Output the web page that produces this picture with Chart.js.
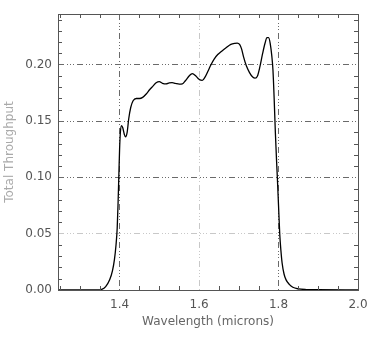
<!DOCTYPE html>
<html>
<head>
<meta charset="utf-8">
<script src="https://cdn.jsdelivr.net/npm/chart.js@4.4.1/dist/chart.umd.min.js"></script>
<style>
    html, body { margin: 0; padding: 0; background: #fff; }
    #wrap { width: 374px; height: 340px; }
</style>
</head>
<body>
<div id="wrap"><canvas id="throughputChart" width="374" height="340"></canvas></div>
<script>
// 波長 (microns)
const wavelength = [
    1.245, 1.300, 1.345, 1.355, 1.365, 1.375, 1.382, 1.387, 1.391, 1.394,
    1.396, 1.398, 1.400, 1.402, 1.405, 1.408, 1.412, 1.415, 1.419, 1.423,
    1.428, 1.434, 1.442, 1.450, 1.458, 1.467, 1.476, 1.484, 1.492, 1.500,
    1.508, 1.517, 1.525, 1.532, 1.540, 1.550, 1.558, 1.566, 1.575, 1.583,
    1.592, 1.600, 1.608, 1.615, 1.622, 1.630, 1.638, 1.647, 1.657, 1.668,
    1.680, 1.690, 1.696, 1.702, 1.707, 1.712, 1.719, 1.727, 1.735, 1.741,
    1.747, 1.753, 1.760, 1.766, 1.771, 1.775, 1.779, 1.783, 1.786, 1.789,
    1.792, 1.795, 1.797, 1.800, 1.803, 1.806, 1.809, 1.814, 1.819, 1.827,
    1.836, 1.850, 1.870, 1.900, 2.000
];

// 全スループット
const throughput = [
    0.000, 0.000, 0.000, 0.0005, 0.003, 0.009, 0.017, 0.027, 0.040, 0.055,
    0.075, 0.100, 0.125, 0.140, 0.146, 0.144, 0.138, 0.136, 0.140, 0.152,
    0.162, 0.168, 0.170, 0.170, 0.171, 0.174, 0.178, 0.181, 0.184, 0.185,
    0.1835, 0.183, 0.1838, 0.184, 0.1835, 0.1828, 0.183, 0.186, 0.190, 0.192,
    0.190, 0.187, 0.186, 0.189, 0.194, 0.200, 0.205, 0.209, 0.212, 0.215,
    0.218, 0.219, 0.2192, 0.218, 0.214, 0.207, 0.199, 0.193, 0.189, 0.188,
    0.190, 0.198, 0.210, 0.219, 0.224, 0.224, 0.219, 0.208, 0.195, 0.170,
    0.140, 0.115, 0.100, 0.075, 0.050, 0.035, 0.024, 0.014, 0.009, 0.005,
    0.0024, 0.001, 0.0004, 0.0002, 0.000
];

// 目盛り
const xTicks = [1.4, 1.6, 1.8, 2.0];
const yTicks = [0.00, 0.05, 0.10, 0.15, 0.20];
const xMinorTicks = [1.25, 1.30, 1.35, 1.45, 1.50, 1.55, 1.65, 1.70, 1.75, 1.85, 1.90, 1.95];
const yMinorTicks = [
    0.01, 0.02, 0.03, 0.04, 0.06, 0.07, 0.08, 0.09, 0.11, 0.12,
    0.13, 0.14, 0.16, 0.17, 0.18, 0.19, 0.21, 0.22, 0.23, 0.24
];
// 薄いグリッド線
const xLightGrid = [1.6];
const yLightGrid = [0.05];

const xMin = 1.245, xMax = 2.0;
const yMin = 0.0, yMax = 0.245;

const gridDash = [6, 3, 1, 2, 1, 2, 1, 3];

// 枠と内向きの小目盛りを描く
const frameTicks = {
    id: 'frameTicks',
    afterDraw(chart) {
        const { ctx, chartArea: a, scales } = chart;
        const len = 4;
        ctx.save();
        ctx.strokeStyle = '#555';
        ctx.lineWidth = 1;
        ctx.beginPath();
        xMinorTicks.forEach(v => {
            const px = Math.round(scales.x.getPixelForValue(v)) + 0.5;
            ctx.moveTo(px, a.bottom); ctx.lineTo(px, a.bottom - len);
            ctx.moveTo(px, a.top); ctx.lineTo(px, a.top + len);
        });
        yMinorTicks.forEach(v => {
            const py = Math.round(scales.y.getPixelForValue(v)) + 0.5;
            ctx.moveTo(a.left, py); ctx.lineTo(a.left + len, py);
            ctx.moveTo(a.right, py); ctx.lineTo(a.right - len, py);
        });
        ctx.stroke();
        ctx.strokeRect(Math.round(a.left) + 0.5, Math.round(a.top) + 0.5,
            Math.round(a.right - a.left), Math.round(a.bottom - a.top));
        ctx.restore();
    }
};

function gridColor(light) {
    return function(c) {
        const v = c.tick ? c.tick.value : null;
        if (v === null) return 'rgba(0,0,0,0)';
        if (Math.abs(v - xMax) < 1e-6 && light === xLightGrid) return 'rgba(0,0,0,0)';
        if (Math.abs(v - yMin) < 1e-6 && light === yLightGrid) return 'rgba(0,0,0,0)';
        return light.some(l => Math.abs(l - v) < 1e-6) ? '#c8c8c8' : '#6a6a6a';
    };
}

const tickFont = { family: 'DejaVu Sans', size: 12 };

const ctx = document.getElementById('throughputChart').getContext('2d');
new Chart(ctx, {
    type: 'line',
    data: {
        datasets: [{
            data: wavelength.map((w, i) => ({ x: w, y: throughput[i] })),
            borderColor: '#000',
            borderWidth: 1.3,
            pointRadius: 0,
            fill: false,
            cubicInterpolationMode: 'monotone'
        }]
    },
    options: {
        responsive: false,
        animation: false,
        layout: { padding: { top: 14, right: 16, left: 0, bottom: 0 } },
        plugins: { legend: { display: false }, tooltip: { enabled: false } },
        scales: {
            x: {
                type: 'linear',
                min: xMin,
                max: xMax,
                afterBuildTicks: s => { s.ticks = xTicks.map(v => ({ value: v })); },
                afterFit: s => { s.height = 50; s.paddingLeft = 0; s.paddingRight = 0; },
                grid: { color: gridColor(xLightGrid), drawTicks: false, lineWidth: 1 },
                border: { display: false, dash: gridDash },
                ticks: {
                    padding: 8,
                    color: '#555',
                    font: tickFont,
                    maxRotation: 0,
                    callback: v => Number(v).toFixed(1)
                },
                title: {
                    display: true,
                    text: 'Wavelength (microns)',
                    color: '#666',
                    font: tickFont,
                    padding: { top: 0, bottom: 11 }
                }
            },
            y: {
                type: 'linear',
                min: yMin,
                max: yMax,
                afterBuildTicks: s => { s.ticks = yTicks.map(v => ({ value: v })); },
                afterFit: s => { s.width = 58; s.paddingTop = 0; s.paddingBottom = 0; },
                grid: { color: gridColor(yLightGrid), drawTicks: false, lineWidth: 1 },
                border: { display: false, dash: gridDash },
                ticks: {
                    padding: 6,
                    color: '#555',
                    font: tickFont,
                    callback: v => Number(v).toFixed(2)
                },
                title: {
                    display: true,
                    text: 'Total Throughput',
                    color: '#aaa',
                    font: tickFont,
                    padding: { top: 3, bottom: 0 }
                }
            }
        }
    },
    plugins: [frameTicks]
});
</script>
</body>
</html>
